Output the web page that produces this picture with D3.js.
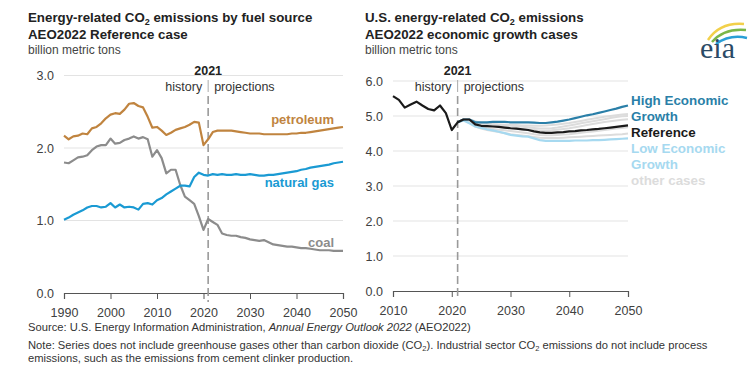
<!DOCTYPE html>
<html>
<head>
<meta charset="utf-8">
<script src="https://cdn.jsdelivr.net/npm/d3@7"></script>
<style>
  body { margin: 0; background: #fff; }
  svg { font-family: "Liberation Sans", Arial, sans-serif; }
  .axis text { font-size: 12.5px; fill: #404040; }
  .grid line { stroke: #e3e3e3; }
</style>
</head>
<body>
<svg id="chart" width="753" height="367"></svg>
<script>
// ---- data (billion metric tons) ----
const fuelYears = d3.range(1990, 2051);
const petroleum = [2.17, 2.12, 2.16, 2.17, 2.20, 2.19, 2.27, 2.29, 2.34, 2.41,
  2.46, 2.48, 2.47, 2.53, 2.61, 2.62, 2.58, 2.56, 2.43, 2.28,
  2.29, 2.24, 2.18, 2.21, 2.25, 2.27, 2.29, 2.32, 2.36, 2.35,
  2.04, 2.12, 2.22, 2.24, 2.24, 2.24, 2.24, 2.23, 2.22, 2.21,
  2.20, 2.20, 2.20, 2.19, 2.19, 2.19, 2.19, 2.19, 2.19, 2.20,
  2.20, 2.21, 2.21, 2.22, 2.23, 2.24, 2.25, 2.26, 2.27, 2.28, 2.29];
const naturalGas = [1.01, 1.04, 1.08, 1.11, 1.14, 1.18, 1.20, 1.20, 1.18, 1.19,
  1.24, 1.18, 1.22, 1.18, 1.19, 1.18, 1.15, 1.23, 1.24, 1.22,
  1.28, 1.31, 1.36, 1.40, 1.44, 1.48, 1.48, 1.47, 1.60, 1.66,
  1.63, 1.62, 1.64, 1.63, 1.64, 1.63, 1.63, 1.64, 1.63, 1.63,
  1.64, 1.63, 1.62, 1.62, 1.63, 1.63, 1.64, 1.65, 1.66, 1.67,
  1.68, 1.70, 1.71, 1.73, 1.74, 1.75, 1.76, 1.77, 1.79, 1.80, 1.81];
const coal = [1.80, 1.79, 1.83, 1.87, 1.88, 1.90, 1.97, 2.02, 2.04, 2.04,
  2.13, 2.06, 2.07, 2.11, 2.13, 2.16, 2.13, 2.15, 2.12, 1.88,
  1.97, 1.86, 1.65, 1.70, 1.70, 1.49, 1.33, 1.28, 1.23, 1.06,
  0.87, 1.02, 0.98, 0.94, 0.82, 0.80, 0.79, 0.79, 0.77, 0.76,
  0.74, 0.73, 0.72, 0.73, 0.70, 0.67, 0.66, 0.65, 0.64, 0.64,
  0.63, 0.62, 0.62, 0.61, 0.60, 0.59, 0.59, 0.59, 0.58, 0.58, 0.58];

const caseYears = d3.range(2010, 2051);
const projYears = d3.range(2021, 2051);
const reference = [5.57, 5.46, 5.24, 5.33, 5.41, 5.30, 5.20, 5.16, 5.30, 5.08,
  4.60, 4.82, 4.90, 4.90, 4.76, 4.72, 4.71, 4.70, 4.69, 4.67,
  4.65, 4.64, 4.62, 4.60, 4.56, 4.53, 4.52, 4.52, 4.53, 4.54,
  4.56, 4.57, 4.59, 4.60, 4.62, 4.63, 4.65, 4.67, 4.69, 4.71, 4.73];
const highGrowth = [4.82, 4.90, 4.90, 4.82, 4.82, 4.82, 4.83, 4.83, 4.83, 4.82,
  4.82, 4.82, 4.82, 4.81, 4.80, 4.80, 4.82, 4.84, 4.87, 4.90,
  4.94, 4.98, 5.02, 5.05, 5.09, 5.13, 5.17, 5.21, 5.26, 5.30];
const lowGrowth = [4.82, 4.87, 4.79, 4.70, 4.66, 4.62, 4.59, 4.55, 4.51, 4.46,
  4.44, 4.42, 4.41, 4.36, 4.31, 4.29, 4.29, 4.29, 4.29, 4.29,
  4.30, 4.30, 4.30, 4.31, 4.31, 4.32, 4.33, 4.34, 4.35, 4.36];
const otherCases = [
  [4.82, 4.90, 4.90, 4.85, 4.80, 4.78, 4.77, 4.76, 4.75, 4.74, 4.74, 4.73, 4.73, 4.72, 4.72,
   4.73, 4.74, 4.76, 4.78, 4.80, 4.83, 4.86, 4.89, 4.92, 4.95, 4.98, 5.00, 5.02, 5.04, 5.06],
  [4.82, 4.90, 4.88, 4.78, 4.75, 4.73, 4.72, 4.70, 4.68, 4.66, 4.64, 4.63, 4.62, 4.60, 4.58,
   4.58, 4.59, 4.61, 4.63, 4.65, 4.68, 4.71, 4.74, 4.77, 4.80, 4.83, 4.85, 4.87, 4.89, 4.91],
  [4.82, 4.89, 4.86, 4.73, 4.68, 4.65, 4.63, 4.61, 4.59, 4.57, 4.55, 4.53, 4.51, 4.48, 4.46,
   4.45, 4.45, 4.46, 4.47, 4.48, 4.50, 4.52, 4.54, 4.56, 4.58, 4.60, 4.62, 4.64, 4.66, 4.68],
  [4.82, 4.88, 4.84, 4.70, 4.64, 4.60, 4.57, 4.54, 4.51, 4.48, 4.46, 4.44, 4.42, 4.40, 4.38,
   4.37, 4.37, 4.37, 4.38, 4.39, 4.40, 4.41, 4.42, 4.43, 4.44, 4.45, 4.46, 4.47, 4.48, 4.50],
  [4.82, 4.90, 4.89, 4.80, 4.78, 4.76, 4.75, 4.74, 4.73, 4.72, 4.70, 4.69, 4.68, 4.66, 4.64,
   4.64, 4.65, 4.67, 4.70, 4.73, 4.76, 4.79, 4.82, 4.85, 4.88, 4.91, 4.94, 4.97, 4.99, 5.00]
];

const leftTicksY = [0, 1, 2, 3];
const leftTicksX = [1990, 2000, 2010, 2020, 2030, 2040, 2050];
const rightTicksY = [0, 1, 2, 3, 4, 5, 6];
const rightTicksX = [2010, 2020, 2030, 2040, 2050];
const splitYear = 2021;

const svg = d3.select('#chart');

class Panel {
  constructor(cfg) {
    this.cfg = cfg;
    this.init();
  }

  init() {
    let vis = this;
    const c = vis.cfg;

    vis.x = d3.scaleLinear().domain(c.xDomain).range([c.left, c.right]);
    vis.y = d3.scaleLinear().domain(c.yDomain).range([c.bottom, c.top]);

    vis.g = svg.append('g');

    // titles
    const t = vis.g.append('g').attr('transform', `translate(${c.titleX},0)`);
    const l1 = t.append('text').attr('y', 22).style('font-size', '13.3px').style('font-weight', 'bold').attr('fill', '#222');
    l1.append('tspan').text(c.title1[0]);
    l1.append('tspan').text('2').style('font-size', '9px').attr('dy', 3);
    l1.append('tspan').text(c.title1[1]).attr('dy', -3);
    t.append('text').attr('y', 39).style('font-size', '13.3px').style('font-weight', 'bold').attr('fill', '#222').text(c.title2);
    t.append('text').attr('y', 54).style('font-size', '12px').attr('fill', '#444').text('billion metric tons');

    // grid
    vis.g.append('g').attr('class', 'grid')
      .selectAll('line')
      .data(c.yTicks.filter(d => d > 0))
      .join('line')
      .attr('x1', c.left).attr('x2', c.right)
      .attr('y1', d => vis.y(d)).attr('y2', d => vis.y(d));

    // y labels
    vis.g.append('g').attr('class', 'axis')
      .selectAll('text')
      .data(c.yTicks)
      .join('text')
      .attr('x', c.left - 10)
      .attr('y', d => vis.y(d) + 4.5)
      .attr('text-anchor', 'end')
      .text(d => d.toFixed(1));

    // x axis
    const xAxis = d3.axisBottom(vis.x).tickValues(c.xTicks).tickFormat(d3.format('d')).tickSize(6).tickPadding(9);
    const xg = vis.g.append('g').attr('class', 'axis')
      .attr('transform', `translate(0,${c.bottom})`)
      .call(xAxis);
    xg.select('.domain').attr('stroke', '#555').attr('stroke-width', 1.2);
    xg.selectAll('.tick line').attr('stroke', '#555');

    // 2021 divider
    const sx = vis.x(splitYear);
    vis.g.append('line')
      .attr('x1', sx).attr('x2', sx)
      .attr('y1', 96).attr('y2', c.bottom + 9)
      .attr('stroke', '#9a9a9a').attr('stroke-width', 1.6)
      .attr('stroke-dasharray', '8,4');
    vis.g.append('line')
      .attr('x1', sx).attr('x2', sx)
      .attr('y1', 80).attr('y2', 92)
      .attr('stroke', '#aaa').attr('stroke-width', 1);
    vis.g.append('text').attr('x', sx).attr('y', 75)
      .attr('text-anchor', 'middle').style('font-size', '12.5px').style('font-weight', 'bold').attr('fill', '#222')
      .text('2021');
    vis.g.append('text').attr('x', sx - 6).attr('y', 91)
      .attr('text-anchor', 'end').style('font-size', '12.5px').attr('fill', '#333').text('history');
    vis.g.append('text').attr('x', sx + 6).attr('y', 91)
      .style('font-size', '12.5px').attr('fill', '#333').text('projections');

    vis.line = d3.line().x(d => vis.x(d[0])).y(d => vis.y(d[1]));
  }

  drawSeries(xs, vals, color, width) {
    let vis = this;
    vis.g.append('path')
      .datum(xs.map((yr, i) => [yr, vals[i]]))
      .attr('fill', 'none')
      .attr('stroke', color)
      .attr('stroke-width', width || 2.2)
      .attr('stroke-linejoin', 'round')
      .attr('d', vis.line);
  }

  label(txt, x, y, color) {
    this.g.append('text').attr('x', x).attr('y', y)
      .attr('text-anchor', 'end')
      .style('font-size', '13px').style('font-weight', 'bold')
      .attr('fill', color).text(txt);
  }
}

// left panel
const left = new Panel({
  titleX: 28,
  title1: ['Energy-related CO', ' emissions by fuel source'],
  title2: 'AEO2022 Reference case',
  left: 64, right: 343, top: 75.5, bottom: 293,
  xDomain: [1990, 2050], yDomain: [0, 3],
  xTicks: leftTicksX, yTicks: leftTicksY
});
left.drawSeries(fuelYears, coal, '#8c8c8c');
left.drawSeries(fuelYears, naturalGas, '#1a9ad3');
left.drawSeries(fuelYears, petroleum, '#c0843f');
left.label('petroleum', 334, 124, '#c0843f');
left.label('natural gas', 334, 187, '#1a9ad3');
left.label('coal', 334, 247, '#8c8c8c');

// right panel
const right = new Panel({
  titleX: 365,
  title1: ['U.S. energy-related CO', ' emissions'],
  title2: 'AEO2022 economic growth cases',
  left: 393, right: 628, top: 81, bottom: 291,
  xDomain: [2010, 2050], yDomain: [0, 6],
  xTicks: rightTicksX, yTicks: rightTicksY
});
otherCases.forEach(vals => right.drawSeries(projYears, vals, '#dcdcdc', 2));
right.drawSeries(projYears, lowGrowth, '#a6d9f0');
right.drawSeries(projYears, highGrowth, '#2a7fa8');
right.drawSeries(caseYears, reference, '#1a1a1a');

const legendItems = [
  ['High Economic', '#2a7fa8'], ['Growth', '#2a7fa8'], ['Reference', '#1a1a1a'],
  ['Low Economic', '#a6d9f0'], ['Growth', '#a6d9f0'], ['other cases', '#dcdcdc']
];
svg.append('g').selectAll('text')
  .data(legendItems)
  .join('text')
  .attr('x', 631)
  .attr('y', (d, i) => 105 + i * 16)
  .style('font-size', '13.4px').style('font-weight', 'bold')
  .attr('fill', d => d[1])
  .text(d => d[0]);

// footer
const foot = svg.append('g').attr('transform', 'translate(28,0)').style('font-size', '11.2px').attr('fill', '#333');
const src = foot.append('text').attr('y', 331);
src.append('tspan').text('Source: U.S. Energy Information Administration, ');
src.append('tspan').style('font-style', 'italic').text('Annual Energy Outlook 2022');
src.append('tspan').text(' (AEO2022)');
const n1 = foot.append('text').attr('y', 349);
n1.append('tspan').text('Note: Series does not include greenhouse gases other than carbon dioxide (CO');
n1.append('tspan').text('2').style('font-size', '7.5px').attr('dy', 2);
n1.append('tspan').text('). Industrial sector CO').attr('dy', -2);
n1.append('tspan').text('2').style('font-size', '7.5px').attr('dy', 2);
n1.append('tspan').text(' emissions do not include process').attr('dy', -2);
foot.append('text').attr('y', 362).text('emissions, such as the emissions from cement clinker production.');

// eia logo
const logo = svg.append('g').attr('transform', 'translate(700,0)');
logo.append('path').attr('d', 'M8,40 Q20,22 44,24').attr('fill', 'none').attr('stroke', '#f2d04a').attr('stroke-width', 2.5);
logo.append('path').attr('d', 'M12,42 Q24,28 46,30').attr('fill', 'none').attr('stroke', '#7ab648').attr('stroke-width', 2.5);
logo.append('path').attr('d', 'M16,44 Q30,34 47,38').attr('fill', 'none').attr('stroke', '#2a9fd6').attr('stroke-width', 2.5);
logo.append('text').attr('x', 0).attr('y', 58)
  .style('font-family', '"Liberation Serif", serif').style('font-size', '30px')
  .attr('fill', '#2a4a66').text('eia');
</script>
</body>
</html>
